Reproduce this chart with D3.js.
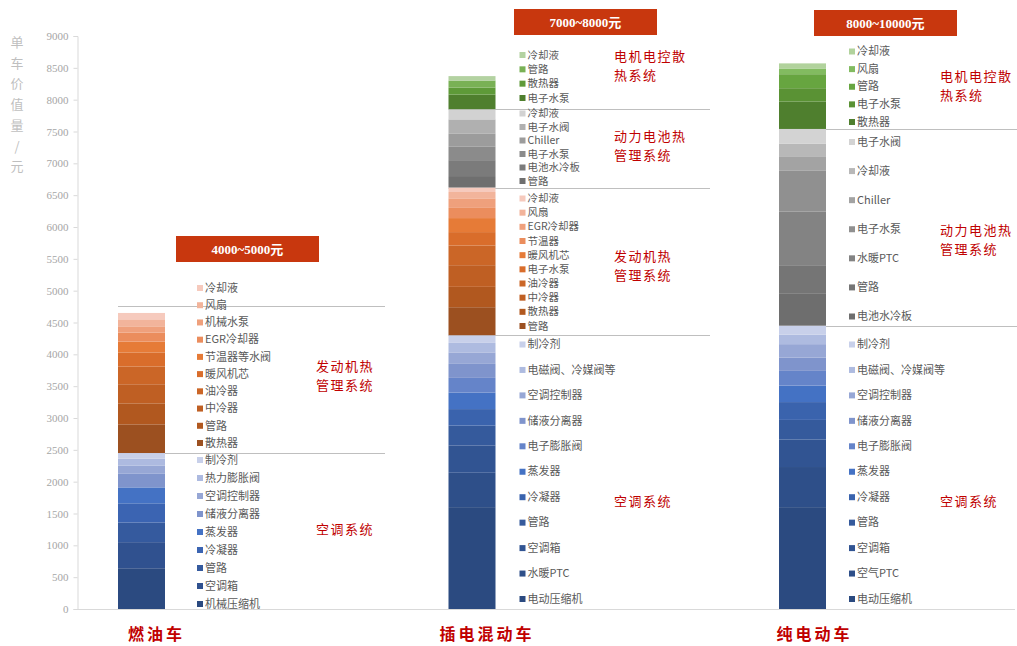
<!DOCTYPE html>
<html>
<head>
<meta charset="utf-8">
<script src="https://cdn.jsdelivr.net/npm/d3@7"></script>
<style>
  body { margin: 0; background: #fff; }
  svg { display: block; }
</style>
</head>
<body>
<svg id="chart" width="1017" height="646"></svg>
<script>
// ---------- data ----------
const categories = ['燃油车', '插电混动车', '纯电动车'];
const priceRanges = ['4000~5000元', '7000~8000元', '8000~10000元'];
const yTicks = [0, 500, 1000, 1500, 2000, 2500, 3000, 3500, 4000, 4500, 5000, 5500, 6000, 6500, 7000, 7500, 8000, 8500, 9000];
const yTitle = '单车价值量/元';

// 燃油车 (stacked bottom -> top)
const fuelAcParts = ['机械压缩机', '空调箱', '管路', '冷凝器', '蒸发器', '储液分离器', '空调控制器', '热力膨胀阀', '制冷剂'];
const fuelAcValues = [640, 410, 310, 300, 250, 220, 120, 110, 90];
const fuelEngineParts = ['散热器', '管路', '中冷器', '油冷器', '暖风机芯', '节温器等水阀', 'EGR冷却器', '机械水泵', '风扇', '冷却液'];
const fuelEngineValues = [450, 330, 300, 280, 220, 170, 140, 100, 110, 100];

// 插电混动车
const phevAcParts = ['电动压缩机', '水暖PTC', '空调箱', '管路', '冷凝器', '蒸发器', '电子膨胀阀', '储液分离器', '空调控制器', '电磁阀、冷媒阀等', '制冷剂'];
const phevAcValues = [1600, 540, 430, 310, 260, 260, 230, 220, 180, 150, 120];
const phevEngineParts = ['管路', '散热器', '中冷器', '油冷器', '电子水泵', '暖风机芯', '节温器', 'EGR冷却器', '风扇', '冷却液'];
const phevEngineValues = [440, 320, 340, 310, 210, 220, 160, 150, 100, 70];
const phevBatteryParts = ['管路', '电池水冷板', '电子水泵', 'Chiller', '电子水阀', '冷却液'];
const phevBatteryValues = [180, 250, 210, 210, 220, 160];
const phevMotorParts = ['电子水泵', '散热器', '管路', '冷却液'];
const phevMotorValues = [230, 110, 110, 70];

// 纯电动车
const bevAcParts = ['电动压缩机', '空气PTC', '空调箱', '管路', '冷凝器', '蒸发器', '电子膨胀阀', '储液分离器', '空调控制器', '电磁阀、冷媒阀等', '制冷剂'];
const bevAcValues = [1600, 630, 430, 310, 280, 260, 230, 210, 210, 150, 140];
const bevBatteryParts = ['电池水冷板', '管路', '水暖PTC', '电子水泵', 'Chiller', '冷却液', '电子水阀'];
const bevBatteryValues = [500, 450, 840, 650, 210, 210, 230];
const bevMotorParts = ['散热器', '电子水泵', '管路', '风扇', '冷却液'];
const bevMotorValues = [430, 210, 220, 90, 80];

const systemTitles = {
  ac: ['空调系统'],
  engine: ['发动机热', '管理系统'],
  battery: ['动力电池热', '管理系统'],
  motor: ['电机电控散', '热系统']
};

// ---------- styling ----------
const palettes = {
  ac9: ['#2B4A80', '#30518F', '#355A9E', '#3B64B2', '#4472C4', '#7F94CC', '#97A7D5', '#ADBAE0', '#C8D0EA'],
  ac11: ['#2B4A80', '#2E4F89', '#315492', '#355A9C', '#3A63AD', '#4472C4', '#6584C9', '#7F94CC', '#97A7D5', '#AEBBE0', '#C8D0EA'],
  engine: ['#9C5020', '#B1581F', '#BF5F23', '#CB6627', '#D96D2B', '#E67B37', '#EB8D5D', '#EFA07C', '#F2B49B', '#F6CABD'],
  battery6: ['#6F6F6F', '#7B7B7B', '#8B8B8B', '#9C9C9C', '#B0B0B0', '#D2D2D2'],
  battery7: ['#6E6E6E', '#757575', '#838383', '#909090', '#A3A3A3', '#B8B8B8', '#D3D3D3'],
  motor4: ['#4F7F2E', '#5E9A38', '#79B155', '#B3D2A1'],
  motor5: ['#4F7F2E', '#5A9234', '#67A540', '#82BB60', '#B1D29C']
};

const cars = [
  {
    systems: [
      { key: 'ac', parts: fuelAcParts, values: fuelAcValues, colors: palettes.ac9, legendY: [460, 604], titleY: 529, },
      { key: 'engine', parts: fuelEngineParts, values: fuelEngineValues, colors: palettes.engine, legendY: [288, 443], titleY: 366 }
    ],
    legendGap: 32, titleX: 316, ruleEnd: 385, topRule: true,
    header: { x: 176, y: 236 }, labelShift: 15
  },
  {
    systems: [
      { key: 'ac', parts: phevAcParts, values: phevAcValues, colors: palettes.ac11, legendY: [344.5, 599], titleY: 501.5 },
      { key: 'engine', parts: phevEngineParts, values: phevEngineValues, colors: palettes.engine, legendY: [198.5, 326], titleY: 256.5 },
      { key: 'battery', parts: phevBatteryParts, values: phevBatteryValues, colors: palettes.battery6, legendY: [113.5, 181], titleY: 136.5 },
      { key: 'motor', parts: phevMotorParts, values: phevMotorValues, colors: palettes.motor4, legendY: [55, 98], titleY: 56.5 }
    ],
    legendGap: 24, titleX: 614, ruleEnd: 710, topRule: false,
    header: { x: 514, y: 9 }, labelShift: 15
  },
  {
    systems: [
      { key: 'ac', parts: bevAcParts, values: bevAcValues, colors: palettes.ac11, legendY: [344.5, 599], titleY: 501 },
      { key: 'battery', parts: bevBatteryParts, values: bevBatteryValues, colors: palettes.battery7, legendY: [142, 316.5], titleY: 230 },
      { key: 'motor', parts: bevMotorParts, values: bevMotorValues, colors: palettes.motor5, legendY: [51.5, 122], titleY: 76 }
    ],
    legendGap: 23, titleX: 940, ruleEnd: 1017, topRule: false,
    header: { x: 814, y: 10 }, labelShift: 12
  }
];

const cjk = '"Noto Sans CJK SC", "Noto Sans", sans-serif';
const red = '#C00000';

// ---------- scales ----------
const svg = d3.select('#chart');
const y = d3.scaleLinear().domain([0, 9000]).range([609, 36]);
const x = d3.scalePoint().domain(categories).range([141.5, 802.5]);
const barW = 47;
const axisX = 77;

// baseline
svg.append('line')
  .attr('x1', axisX).attr('x2', 1015)
  .attr('y1', y(0) + 0.5).attr('y2', y(0) + 0.5)
  .attr('stroke', '#D9D9D9').attr('stroke-width', 1);

// y axis
const axis = svg.append('g')
  .attr('transform', `translate(${axisX + 0.5},0)`)
  .call(d3.axisLeft(y).tickValues(yTicks).tickSize(4).tickPadding(5).tickFormat(d3.format('d')));
axis.select('.domain').attr('stroke', '#D9D9D9');
axis.selectAll('.tick line').attr('stroke', '#D9D9D9');
axis.selectAll('.tick text')
  .attr('fill', '#A6A6A6')
  .style('font-family', '"Liberation Serif", "DejaVu Serif", serif')
  .style('font-size', '11px');

// vertical axis title
svg.append('g').selectAll('text')
  .data(Array.from(yTitle))
  .join('text')
  .attr('x', 17)
  .attr('y', (d, i) => 47 + i * 20.7)
  .attr('text-anchor', 'middle')
  .attr('fill', '#BFBFBF')
  .style('font-family', cjk)
  .style('font-size', '13px')
  .text(d => d);

// ---------- stacks ----------
cars.forEach((car, ci) => {
  const cx = x(categories[ci]);
  const left = cx - barW / 2;
  const right = cx + barW / 2;
  const g = svg.append('g');

  // build stacked segments
  let base = 0;
  const stacked = car.systems.map(sys => {
    const segs = sys.values.map((v, i) => {
      const s = { part: sys.parts[i], y0: base, y1: base + v, color: sys.colors[i] };
      base += v;
      return s;
    });
    return { sys, segs, top: base };
  });
  const total = base;

  // divider rules between systems (drawn under the bars)
  const ruleVals = stacked.slice(0, -1).map(s => y(s.top));
  if (car.topRule) ruleVals.push(y(total) - 7);
  g.selectAll('line.rule')
    .data(ruleVals)
    .join('line')
    .attr('class', 'rule')
    .attr('x1', left).attr('x2', car.ruleEnd)
    .attr('y1', d => Math.round(d) + 0.5).attr('y2', d => Math.round(d) + 0.5)
    .attr('stroke', '#BFBFBF').attr('stroke-width', 1);

  stacked.forEach(({ sys, segs }) => {
    // bar segments
    g.selectAll(null)
      .data(segs)
      .join('rect')
      .attr('x', left)
      .attr('width', barW)
      .attr('y', d => y(d.y1))
      .attr('height', d => y(d.y0) - y(d.y1))
      .attr('fill', d => d.color);

    // legend, listed top -> bottom
    const items = segs.slice().reverse();
    const ly = d3.scalePoint().domain(d3.range(items.length)).range(sys.legendY);
    const step = ly.step();
    const fontSize = step < 15 ? 10.5 : 11;
    const lx = right + car.legendGap;
    const lg = g.append('g');
    lg.selectAll('rect')
      .data(items)
      .join('rect')
      .attr('x', lx)
      .attr('y', (d, i) => ly(i) - 3)
      .attr('width', 6).attr('height', 6)
      .attr('fill', d => d.color);
    lg.selectAll('text')
      .data(items)
      .join('text')
      .attr('x', lx + 8)
      .attr('y', (d, i) => ly(i))
      .attr('dy', '0.34em')
      .attr('fill', '#595959')
      .style('font-family', cjk)
      .style('font-size', fontSize + 'px')
      .text(d => d.part);

    // system title
    g.selectAll(null)
      .data(systemTitles[sys.key])
      .join('text')
      .attr('x', car.titleX)
      .attr('y', (d, i) => sys.titleY + i * 19)
      .attr('dy', '0.36em')
      .attr('fill', red)
      .style('font-family', cjk)
      .style('font-size', '13px')
      .style('letter-spacing', '1.5px')
      .text(d => d);
  });

  // price range header
  const hg = svg.append('g').attr('transform', `translate(${car.header.x},${car.header.y})`);
  hg.append('rect').attr('width', 143).attr('height', 26).attr('fill', '#C8370E');
  hg.append('text')
    .attr('x', 71.5).attr('y', 13).attr('dy', '0.36em')
    .attr('text-anchor', 'middle')
    .attr('fill', '#fff')
    .style('font-family', '"Liberation Serif", "Noto Sans CJK SC", serif')
    .style('font-weight', 'bold')
    .style('font-size', '13px')
    .text(priceRanges[ci]);

  // category label
  svg.append('text')
    .attr('x', cx + car.labelShift)
    .attr('y', 634).attr('dy', '0.36em')
    .attr('text-anchor', 'middle')
    .attr('fill', red)
    .style('font-family', cjk)
    .style('font-weight', 'bold')
    .style('font-size', '16px')
    .style('letter-spacing', '3px')
    .text(categories[ci]);
});
</script>
</body>
</html>
